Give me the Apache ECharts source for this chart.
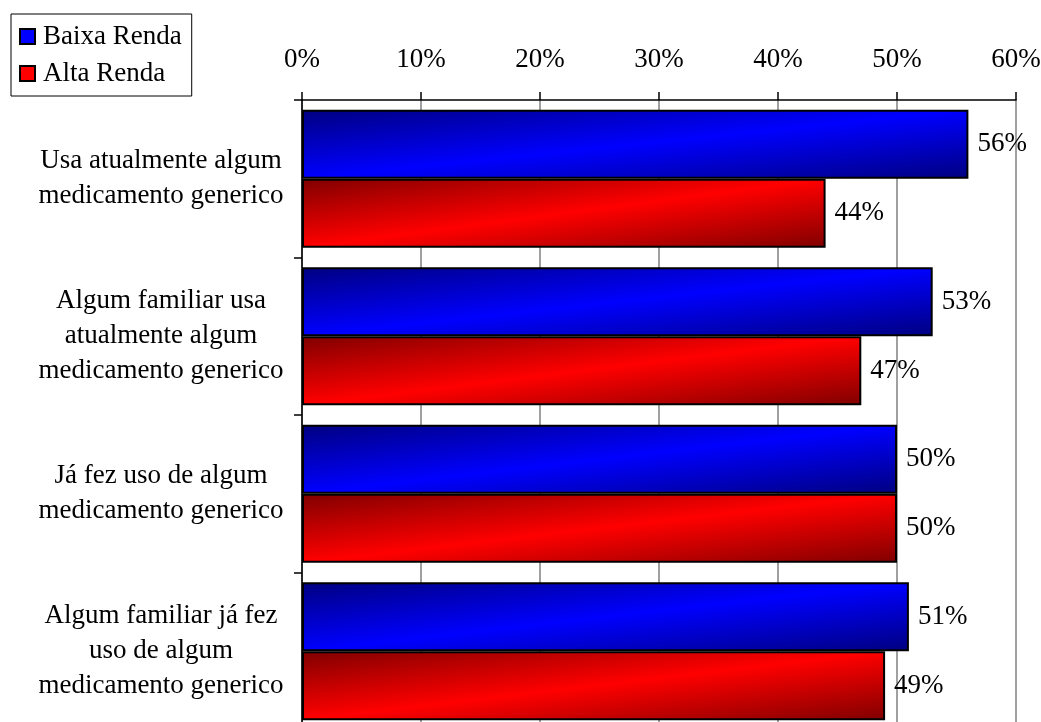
<!DOCTYPE html>
<html>
<head>
<meta charset="utf-8">
<style>
  html, body { margin: 0; padding: 0; background: #fff; }
  #chart { width: 1041px; height: 722px; }
</style>
<script src="https://cdn.jsdelivr.net/npm/echarts@6/dist/echarts.min.js"></script>
</head>
<body>
<div id="chart"></div>
<script>
// Survey categories (top to bottom)
const categories = [
  'Usa atualmente algum\nmedicamento generico',
  'Algum familiar usa\natualmente algum\nmedicamento generico',
  'Já fez uso de algum\nmedicamento generico',
  'Algum familiar já fez\nuso de algum\nmedicamento generico'
];
// Share of respondents (%) by income group
const baixaRenda = [56, 53, 50, 51];
const altaRenda = [44, 47, 50, 49];
const seriesNames = ['Baixa Renda', 'Alta Renda'];
// Axis range (%)
const axisMin = 0, axisMax = 60, axisStep = 10;

const FONT = '"Liberation Serif", "Times New Roman", serif';
const FONT_SIZE = 27;
const BAR_W = 69;
const chart = echarts.init(document.getElementById('chart'));

// Diagonal dark-light-dark shading whose bands follow the bar's own diagonal
function shade(widthPx, heightPx, dark, bright) {
  const w = Math.max(widthPx, 1), h = heightPx;
  const d = w * w + h * h;
  return new echarts.graphic.LinearGradient(0, 0, 2 * h * h / d, 2 * w * w / d, [
    { offset: 0, color: dark },
    { offset: 0.5, color: bright },
    { offset: 1, color: dark }
  ]);
}

function buildData(values, dark, bright) {
  const x0 = chart.convertToPixel({ gridIndex: 0 }, [0, 0])[0];
  return values.map((v, i) => {
    const x1 = chart.convertToPixel({ gridIndex: 0 }, [v, i])[0];
    return { value: v, itemStyle: { color: shade(x1 - x0, BAR_W, dark, bright) } };
  });
}

const barLabel = {
  show: true,
  position: 'right',
  distance: 9,
  formatter: '{c}%',
  color: '#000',
  fontFamily: FONT,
  fontSize: FONT_SIZE
};

chart.setOption({
  animation: false,
  backgroundColor: '#fff',
  textStyle: { fontFamily: FONT },
  legend: {
    orient: 'vertical',
    left: 11,
    top: 14,
    padding: [9, 10, 9, 8],
    itemGap: 10,
    itemWidth: 15,
    itemHeight: 15,
    borderColor: '#000',
    borderWidth: 1,
    icon: 'rect',
    textStyle: { fontFamily: FONT, fontSize: FONT_SIZE, color: '#000', padding: [0, 0, 0, 3] },
    data: seriesNames
  },
  grid: {
    left: 302, top: 100, width: 714, height: 630,
    containLabel: false,
    outerBoundsMode: 'none'
  },
  xAxis: {
    type: 'value',
    position: 'top',
    min: axisMin,
    max: axisMax,
    interval: axisStep,
    axisLine: { show: true, lineStyle: { color: '#000', width: 1.5 } },
    axisTick: { show: true, length: 8, lineStyle: { color: '#000', width: 1.5 } },
    axisLabel: {
      formatter: '{value}%',
      margin: 27,
      color: '#000',
      fontFamily: FONT,
      fontSize: FONT_SIZE
    },
    splitLine: { show: true, lineStyle: { color: '#808080', width: 1.5 } }
  },
  yAxis: {
    type: 'category',
    inverse: true,
    data: categories,
    axisLine: { show: true, lineStyle: { color: '#000', width: 1.5 } },
    axisTick: { show: true, length: 8, lineStyle: { color: '#000', width: 1.5 } },
    axisLabel: {
      align: 'center',
      margin: 141,
      color: '#000',
      fontFamily: FONT,
      fontSize: FONT_SIZE,
      lineHeight: 35
    }
  },
  series: [
    {
      name: seriesNames[0],
      type: 'bar',
      barWidth: BAR_W,
      barGap: '0%',
      itemStyle: { color: '#0000ff', borderColor: '#000', borderWidth: 2 },
      label: barLabel,
      data: baixaRenda
    },
    {
      name: seriesNames[1],
      type: 'bar',
      barWidth: BAR_W,
      barGap: '0%',
      itemStyle: { color: '#ff0000', borderColor: '#000', borderWidth: 2 },
      label: barLabel,
      data: altaRenda
    }
  ]
});

// Apply the per-bar shading now that the axis scale is laid out
chart.setOption({
  series: [
    { data: buildData(baixaRenda, '#000080', '#0000ff') },
    { data: buildData(altaRenda, '#800000', '#ff0000') }
  ]
});
</script>
</body>
</html>
